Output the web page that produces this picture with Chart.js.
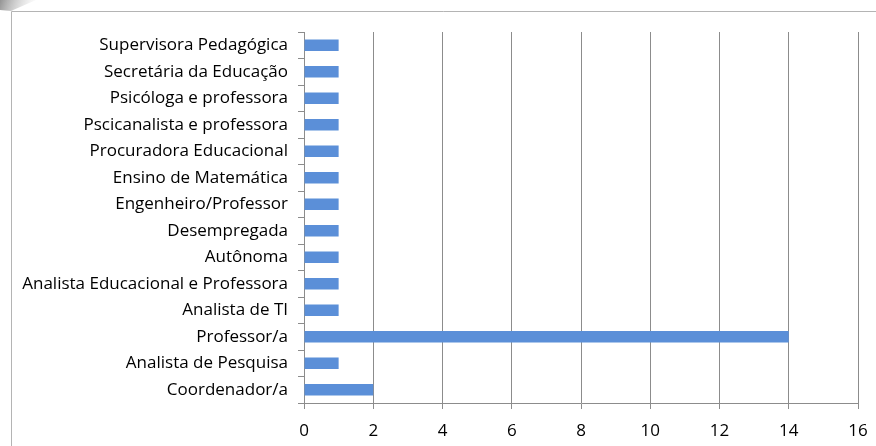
<!DOCTYPE html>
<html>
<head>
<meta charset="utf-8">
<script src="https://cdn.jsdelivr.net/npm/chart.js@4/dist/chart.umd.min.js"></script>
<style>
  html, body { margin: 0; padding: 0; background: #fff; }
  #wrap { width: 876px; height: 446px; position: relative; }
</style>
</head>
<body>
<div id="wrap"><canvas id="profChart"></canvas></div>
<script>
    const categories = [
        'Supervisora Pedagógica',
        'Secretária da Educação',
        'Psicóloga e professora',
        'Pscicanalista e professora',
        'Procuradora Educacional',
        'Ensino de Matemática',
        'Engenheiro/Professor',
        'Desempregada',
        'Autônoma',
        'Analista Educacional e Professora',
        'Analista de TI',
        'Professor/a',
        'Analista de Pesquisa',
        'Coordenador/a'
    ];
    const counts = [1, 1, 1, 1, 1, 1, 1, 1, 1, 1, 1, 14, 1, 2];
    const xTicks = [0, 2, 4, 6, 8, 10, 12, 14, 16];

    // frame line of the original picture + little shadow in the corner
    const framePlugin = {
        id: 'frame',
        beforeDraw(chart) {
            const c = chart.ctx;
            c.save();
            const g = c.createLinearGradient(0, 0, 35, 12);
            g.addColorStop(0, 'rgba(120,120,120,0.8)');
            g.addColorStop(1, 'rgba(200,200,200,0)');
            c.fillStyle = g;
            c.beginPath();
            c.moveTo(0, 0); c.lineTo(36, 0); c.lineTo(11, 11); c.lineTo(0, 10);
            c.closePath();
            c.fill();
            c.strokeStyle = '#b4b4b4';
            c.lineWidth = 1;
            c.beginPath();
            c.moveTo(11.5, 446);
            c.lineTo(11.5, 11.5);
            c.lineTo(876, 11.5);
            c.stroke();
            c.restore();
        }
    };

    const ctx = document.getElementById('profChart').getContext('2d');
    new Chart(ctx, {
        type: 'bar',
        data: {
            labels: categories,
            datasets: [{
                data: counts,
                backgroundColor: '#5b8fd8',
                borderWidth: 0,
                barPercentage: 0.44,
                categoryPercentage: 1
            }]
        },
        options: {
            indexAxis: 'y',
            responsive: true,
            maintainAspectRatio: false,
            animation: false,
            layout: { padding: { left: 12, top: 32, right: 18, bottom: 0 } },
            plugins: { legend: { display: false }, tooltip: { enabled: false } },
            scales: {
                x: {
                    min: 0, max: 16,
                    afterBuildTicks(axis) { axis.ticks = xTicks.map(v => ({ value: v })); },
                    afterFit(axis) {
                        axis.height = 43;
                        axis.paddingLeft = 0;
                        axis.paddingRight = 0;
                    },
                    grid: { color: '#8c8c8c', tickLength: 6, lineWidth: 1 },
                    border: { color: '#8c8c8c' },
                    ticks: { color: '#000', font: { family: 'Open Sans', size: 17 }, padding: 12 }
                },
                y: {
                    afterFit(axis) { axis.width = 304 - 12; },
                    grid: { offset: true, drawOnChartArea: false, color: '#8c8c8c', tickLength: 6 },
                    border: { color: '#8c8c8c' },
                    ticks: { color: '#000', font: { family: 'Open Sans', size: 17 }, padding: 10 }
                }
            }
        },
        plugins: [framePlugin]
    });
</script>
</body>
</html>
